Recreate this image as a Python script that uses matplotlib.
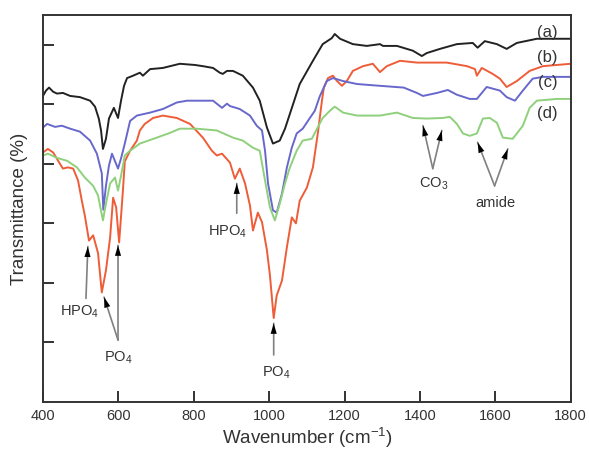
import matplotlib
matplotlib.use("Agg")
import matplotlib.pyplot as plt

plt.rcParams['font.family'] = ['Liberation Sans', 'DejaVu Sans']
plt.rcParams['mathtext.fontset'] = 'custom'
plt.rcParams['mathtext.rm'] = 'Liberation Sans'
plt.rcParams['mathtext.it'] = 'Liberation Sans:italic'
plt.rcParams['mathtext.bf'] = 'Liberation Sans:bold'

# ---- data (wavenumber cm-1, transmittance a.u.) ----
a_x = [400, 408, 416, 427, 437, 453, 472, 498, 525, 538, 548, 554, 559, 567, 575, 588, 599, 607, 615, 623,
       639, 657, 665, 684, 718, 763, 803, 824, 851, 869, 877, 888, 904, 930, 957, 975, 994, 1010, 1028, 1042,
       1055, 1081, 1116, 1142, 1166, 1174, 1188, 1222, 1259, 1294, 1302, 1339, 1381, 1405, 1418, 1453, 1498,
       1540, 1553, 1572, 1604, 1630, 1657, 1710, 1800]
a_y = [51.4, 52.3, 52.8, 52.1, 51.8, 51.9, 51.4, 51.2, 50.6, 49.6, 47.6, 45.6, 42.5, 44.2, 47.6, 49.4, 47.7,
       50.6, 53.1, 54.4, 54.8, 55.3, 54.8, 55.9, 56.1, 56.8, 56.6, 56.4, 56.1, 55.3, 55.1, 55.6, 55.6, 54.8,
       52.8, 50.6, 46.1, 43.4, 43.9, 45.9, 48.4, 53.4, 57.3, 60.1, 61.1, 61.8, 61.0, 60.1, 59.8, 60.1, 59.8,
       59.8, 59.0, 58.1, 58.6, 59.3, 60.1, 60.3, 59.5, 60.6, 60.1, 59.3, 60.3, 61.0, 61.0]

b_x = [400, 413, 427, 445, 453, 466, 480, 493, 503, 511, 522, 533, 546, 556, 567, 578, 586, 594, 602, 612,
       617, 631, 649, 657, 670, 692, 718, 755, 790, 824, 848, 861, 875, 896, 909, 922, 936, 949, 957, 970,
       981, 994, 1002, 1012, 1020, 1034, 1047, 1060, 1071, 1081, 1100, 1116, 1129, 1140, 1145, 1156, 1169,
       1180, 1193, 1206, 1222, 1249, 1275, 1294, 1312, 1347, 1392, 1471, 1525, 1546, 1551, 1564, 1593, 1612,
       1630, 1657, 1691, 1726, 1800]
b_y = [41.9, 42.5, 41.9, 40.0, 39.2, 39.4, 39.2, 37.2, 33.8, 31.3, 27.1, 28.0, 25.0, 18.4, 22.1, 27.6, 34.3,
       32.7, 26.8, 35.5, 40.4, 42.2, 43.9, 45.6, 46.7, 47.7, 48.1, 47.7, 46.7, 44.4, 42.2, 41.4, 41.7, 40.2,
       37.5, 39.2, 36.7, 33.0, 28.8, 31.8, 30.2, 25.5, 21.3, 14.1, 17.9, 20.4, 26.0, 31.0, 30.0, 33.8, 36.0,
       39.4, 45.1, 50.6, 52.8, 54.4, 54.8, 53.9, 53.1, 53.9, 55.6, 56.4, 56.8, 55.4, 56.4, 57.3, 57.0, 57.0,
       56.4, 55.9, 54.8, 56.1, 55.1, 54.3, 52.9, 53.9, 55.6, 56.4, 56.8]

c_x = [400, 411, 432, 450, 472, 498, 525, 543, 556, 560, 567, 575, 583, 599, 607, 617, 631, 649, 684, 718,
       755, 782, 851, 875, 888, 896, 922, 949, 967, 981, 989, 997, 1010, 1020, 1034, 1047, 1060, 1073, 1089,
       1108, 1121, 1134, 1153, 1169, 1196, 1233, 1294, 1357, 1392, 1408, 1445, 1474, 1498, 1532, 1551, 1577,
       1612, 1630, 1652, 1673, 1699, 1726, 1800]
c_y = [46.1, 46.7, 46.2, 46.4, 45.9, 45.4, 43.9, 41.7, 38.4, 32.3, 36.3, 39.7, 41.7, 39.2, 40.9, 43.4, 47.2,
       48.1, 48.6, 49.2, 50.3, 50.6, 50.6, 49.4, 50.1, 49.7, 49.2, 48.1, 46.4, 45.6, 42.2, 36.7, 32.2, 31.8,
       35.0, 39.4, 42.7, 45.1, 45.9, 47.7, 48.9, 51.3, 53.9, 54.4, 53.9, 53.4, 53.1, 52.8, 51.9, 51.4, 51.9,
       52.4, 51.6, 50.9, 50.9, 52.9, 52.3, 51.2, 50.6, 52.3, 54.3, 54.6, 54.6]

d_x = [400, 413, 437, 464, 490, 511, 533, 546, 559, 567, 578, 591, 599, 607, 617, 631, 657, 702, 737, 763,
       808, 861, 904, 930, 957, 975, 989, 1002, 1015, 1028, 1042, 1055, 1073, 1089, 1113, 1127, 1142, 1161,
       1174, 1196, 1233, 1294, 1339, 1381, 1418, 1461, 1479, 1498, 1514, 1532, 1551, 1567, 1585, 1604, 1620,
       1646, 1673, 1691, 1710, 1763, 1800]
d_y = [41.4, 41.7, 41.0, 40.5, 39.4, 37.7, 36.3, 34.7, 30.5, 33.3, 36.7, 37.7, 35.5, 38.0, 41.4, 42.2, 43.4,
       44.4, 45.2, 45.9, 45.9, 45.6, 44.4, 43.9, 42.7, 42.2, 37.2, 32.7, 30.5, 33.3, 36.7, 39.4, 42.2, 43.9,
       44.2, 45.9, 47.7, 48.9, 49.6, 48.6, 48.1, 48.1, 48.6, 47.7, 47.6, 47.7, 47.9, 46.7, 45.1, 44.7, 45.1,
       47.6, 47.7, 46.9, 44.4, 44.2, 46.4, 49.4, 50.6, 50.9, 50.9]

series_labels = ['(a)', '(b)', '(c)', '(d)']
label_y = [62.0, 57.8, 53.6, 48.4]
x_ticks = [400, 600, 800, 1000, 1200, 1400, 1600, 1800]

colors = ['#222222', '#ee5d38', '#6868cc', '#8fd07c']

fig = plt.figure(figsize=(5.89, 4.49), dpi=100)
ax = fig.add_axes([0.073, 0.1047, 0.896, 0.862])

for xs, ys, c in zip([a_x, b_x, c_x, d_x], [a_y, b_y, c_y, d_y], colors):
    ax.plot(xs, ys, color=c, lw=1.4, solid_joinstyle='round')

ax.set_xlim(400, 1800)
ax.set_ylim(0, 65)
ax.set_xticks(x_ticks)
ax.set_yticks([10, 20, 30, 40, 50, 60])
ax.set_yticklabels([])
ax.tick_params(direction='in', length=8, width=1.4, color='#333333', labelcolor='#333333',
               labelsize=10.5, pad=5, top=False, right=False)
for s in ax.spines.values():
    s.set_linewidth(1.4)
    s.set_color('#333333')

ax.set_xlabel('Wavenumber (cm$^{-1}$)', fontsize=13.5, color='#333333')
ax.xaxis.set_label_coords(0.5, -0.062)
ax.set_ylabel('Transmittance (%)', fontsize=13.5, color='#333333')
ax.yaxis.set_label_coords(-0.028, 0.5)

for lab, ly in zip(series_labels, label_y):
    ax.text(1739, ly, lab, fontsize=12, color='#333333', ha='center', va='center')

txt_c = '#333333'
ann_fs = 10.5


def arrow(x0, y0, x1, y1):
    # gray shaft
    ax.annotate('', xy=(x1, y1), xytext=(x0, y0),
                arrowprops=dict(arrowstyle='-', color='#808080', lw=1.2, shrinkA=0, shrinkB=0))
    # black head
    xm = x1 - 0.3 * (x1 - x0)
    ym = y1 - 0.3 * (y1 - y0)
    ax.annotate('', xy=(x1, y1), xytext=(xm, ym),
                arrowprops=dict(arrowstyle='-|>,head_length=0.75,head_width=0.22', mutation_scale=10,
                                color='black', lw=0.01, shrinkA=0, shrinkB=0))


# left HPO4
ax.text(498, 15.1, r'HPO$_\mathregular{4}$', fontsize=ann_fs, color=txt_c, ha='center', va='center')
arrow(514, 17.4, 519, 26.1)
# left PO4
ax.text(601, 7.5, r'PO$_\mathregular{4}$', fontsize=ann_fs, color=txt_c, ha='center', va='center')
arrow(599, 10.4, 562, 17.6)
arrow(599, 10.4, 599, 26.3)
# mid HPO4
ax.text(891, 28.5, r'HPO$_\mathregular{4}$', fontsize=ann_fs, color=txt_c, ha='center', va='center')
arrow(914, 31.7, 914, 36.7)
# mid PO4
ax.text(1020, 4.9, r'PO$_\mathregular{4}$', fontsize=ann_fs, color=txt_c, ha='center', va='center')
arrow(1012, 7.9, 1012, 13.2)
# CO3
ax.text(1437, 36.7, r'CO$_\mathregular{3}$', fontsize=ann_fs, color=txt_c, ha='center', va='center')
arrow(1434, 39.2, 1408, 46.4)
arrow(1434, 39.2, 1458, 45.6)
# amide
ax.text(1601, 33.5, 'amide', fontsize=ann_fs, color=txt_c, ha='center', va='center')
arrow(1598, 36.3, 1553, 43.6)
arrow(1598, 36.3, 1633, 42.5)

fig.savefig('out.png', dpi=100)
